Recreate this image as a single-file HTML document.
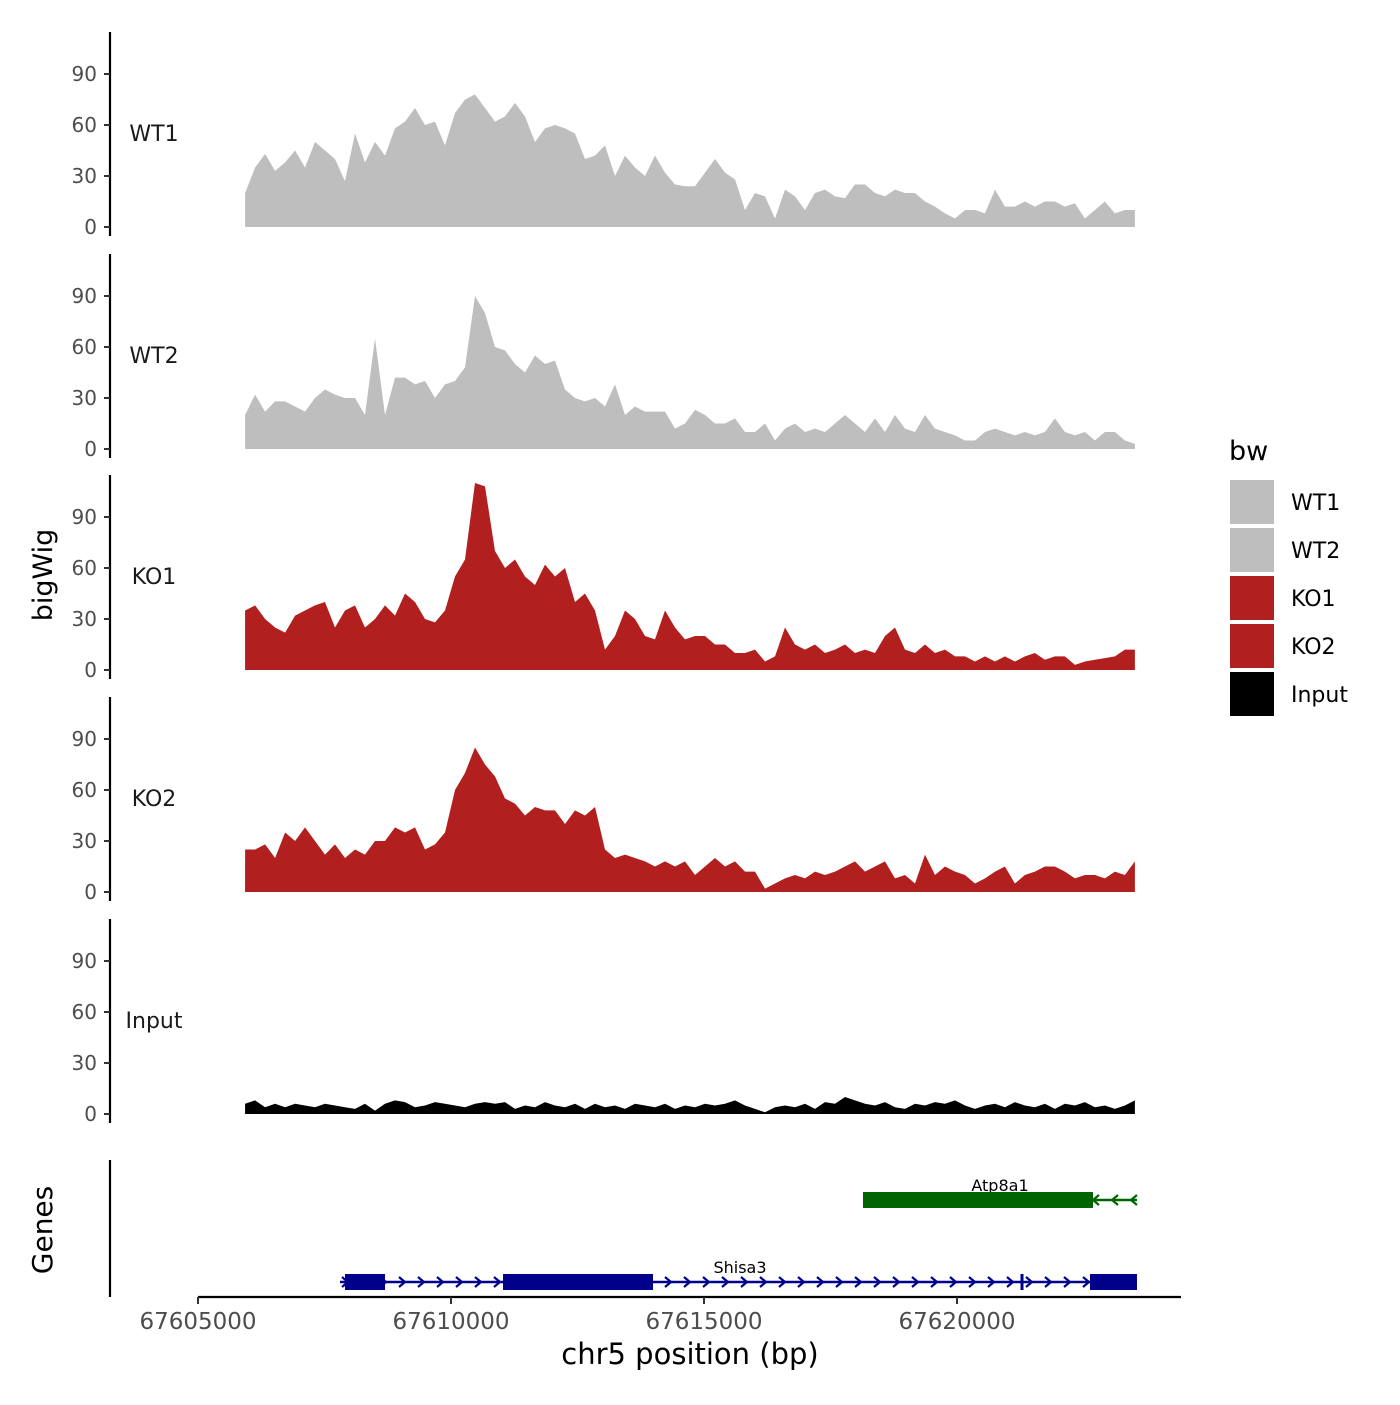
<!DOCTYPE html>
<html><head><meta charset="utf-8"><style>
html,body{margin:0;padding:0;background:#fff;}
svg text{font-family:"DejaVu Sans","Liberation Sans",sans-serif;}
</style></head><body>
<svg id="chart" width="1400" height="1400" viewBox="0 0 1400 1400" xmlns="http://www.w3.org/2000/svg">
<rect width="1400" height="1400" fill="#fff"/>
<g id="tracks"></g>
<g id="genes"></g>
<g id="legend"></g>
</svg>
<script>
const trackNames = ["WT1","WT2","KO1","KO2","Input"];
const trackColors = ["#bebebe","#bebebe","#b21f1f","#b21f1f","#000000"];
const binStart = 67605930;
const binSize = 197.6;
const yTicks = [0,30,60,90];
const xTicks = [67605000,67610000,67615000,67620000];
const wt1 = [20,35,43,33,38,45,35,50,45,40,27,55,38,50,42,58,62,70,60,62,48,67,75,78,70,62,65,73,65,50,58,60,58,55,40,42,48,30,42,35,30,42,32,25,24,24,32,40,32,28,10,20,18,5,22,18,10,20,22,18,17,25,25,20,18,22,20,20,15,12,8,5,10,10,8,22,12,12,15,12,15,15,12,14,5,10,15,8,10,10];
const wt2 = [20,32,22,28,28,25,22,30,35,32,30,30,20,65,20,42,42,38,40,30,38,40,48,90,80,60,58,50,45,55,50,52,35,30,28,30,25,38,20,25,22,22,22,12,15,23,20,15,15,18,10,10,15,5,12,15,10,12,10,15,20,15,10,18,10,20,12,10,20,12,10,8,5,5,10,12,10,8,10,8,10,18,10,8,10,5,10,10,5,3];
const ko1 = [35,38,30,25,22,32,35,38,40,25,35,38,25,30,38,32,45,40,30,28,35,55,65,110,108,70,60,65,55,50,62,55,60,40,45,35,12,20,35,30,20,18,35,25,18,20,20,15,15,10,10,12,5,8,25,15,12,15,10,12,15,10,12,10,20,25,12,10,15,10,12,8,8,5,8,5,8,5,8,10,6,8,8,3,5,6,7,8,12,12];
const ko2 = [25,25,28,20,35,30,38,30,22,28,20,25,22,30,30,38,35,38,25,28,35,60,70,85,75,68,55,52,45,50,48,48,40,48,45,50,25,20,22,20,18,15,18,15,18,10,15,20,15,18,12,12,2,5,8,10,8,12,10,12,15,18,12,15,18,8,10,5,22,10,15,12,10,5,8,12,15,5,10,12,15,15,12,8,10,10,8,12,10,18];
const input = [6,8,4,6,4,6,5,4,6,5,4,3,6,2,6,8,7,4,5,7,6,5,4,6,7,6,7,3,5,4,7,5,4,6,3,6,4,5,3,6,5,4,6,3,5,4,6,5,6,8,5,3,1,4,5,4,6,3,7,6,10,8,6,5,7,4,3,6,5,7,6,8,5,3,5,6,4,7,5,4,6,3,6,5,7,4,5,3,5,8];
const trackData = [wt1,wt2,ko1,ko2,input];
const geneNames = ["Atp8a1","Shisa3"];
const geneStarts = [67618142,67607806];
const geneEnds = [67623557,67623557];
const geneStrands = ["-","+"];
const exonGene = [0,1,1,1];
const exonStarts = [67618142,67607905,67611028,67622628];
const exonEnds = [67622688,67608696,67613992,67623557];

const NS="http://www.w3.org/2000/svg";
function mk(tag,attrs,parent){const e=document.createElementNS(NS,tag);for(const k in attrs)e.setAttribute(k,attrs[k]);parent.appendChild(e);return e;}
const xScale = bp => 198 + (bp-67605000)*253/5000;
const baselines = [227,449,670,892,1114];
const yScale = (v,i) => baselines[i] - v*1.7;

const tg=document.getElementById('tracks');
trackData.forEach((arr,i)=>{
  const g=mk('g',{},tg);
  
  
  let d='M'+xScale(binStart)+','+baselines[i];
  arr.forEach((v,j)=>{d+=' L'+xScale(binStart+j*binSize).toFixed(1)+','+yScale(v,i).toFixed(1);});
  d+=' L'+xScale(binStart+(arr.length-1)*binSize).toFixed(1)+','+baselines[i]+' Z';
  const p=mk('path',{d:d,fill:trackColors[i]},g);
  
  
  const top=baselines[i]-195, bot=baselines[i]+9;
  const ax=mk('line',{x1:110,x2:110,y1:top,y2:bot,stroke:'#000','stroke-width':2.2},g);
  
  
  yTicks.forEach(t=>{
    const y=yScale(t,i);
    mk('line',{x1:104,x2:110,y1:y,y2:y,stroke:'#333','stroke-width':2},g);
    const tx=mk('text',{x:97,y:y+7,'text-anchor':'end','font-size':20,fill:'#4d4d4d'},g);
    tx.textContent=t;
    
    
  });
  const lb=mk('text',{x:154,y:baselines[i]-86,'text-anchor':'middle','font-size':22,fill:'#1a1a1a'},g);
  lb.textContent=trackNames[i];
  
  
});
const yt=mk('text',{x:0,y:0,'text-anchor':'middle','font-size':27,fill:'#000',transform:'translate(52,575) rotate(-90)'},tg);
yt.textContent='bigWig';



const gg=document.getElementById('genes');
mk('line',{x1:110,x2:110,y1:1160,y2:1297,stroke:'#000','stroke-width':2.2},gg);
mk('line',{x1:198,x2:1181,y1:1297,y2:1297,stroke:'#000','stroke-width':2.2},gg);
xTicks.forEach(t=>{
  const x=xScale(t);
  mk('line',{x1:x,x2:x,y1:1297,y2:1304,stroke:'#333','stroke-width':2},gg);
  const tx=mk('text',{x:x,y:1329,'text-anchor':'middle','font-size':23,fill:'#4d4d4d'},gg);
  tx.textContent=t;
  
  
});
const xt=mk('text',{x:690,y:1364,'text-anchor':'middle','font-size':29,fill:'#000'},gg);
xt.textContent='chr5 position (bp)';


const gt=mk('text',{x:0,y:0,'text-anchor':'middle','font-size':28,fill:'#000',transform:'translate(52,1230) rotate(-90)'},gg);
gt.textContent='Genes';


const geneY=[1200,1282], geneCol=['#006400','#00008b'];
geneNames.forEach((n,i)=>{
  const g=mk('g',{},gg);
  
  
  const x1=xScale(geneStarts[i]), x2=xScale(geneEnds[i]), y=geneY[i], c=geneCol[i];
  mk('line',{x1:x1,x2:x2,y1:y,y2:y,stroke:c,'stroke-width':2.5},g);
  for(let x=x1+5;x<x2;x+=19){
    const d=geneStrands[i]==='+'?`M${x-3},${y-5} L${x+3},${y} L${x-3},${y+5}`:`M${x+3},${y-5} L${x-3},${y} L${x+3},${y+5}`;
    mk('path',{d:d,stroke:c,'stroke-width':2.2,fill:'none'},g);
  }
  const lb=mk('text',{x:(i===0?1000:740),y:y-9,'text-anchor':'middle','font-size':16,fill:'#000'},g);
  lb.textContent=n;
  
  
});
exonStarts.forEach((s,k)=>{
  const i=exonGene[k];
  const r=mk('rect',{x:xScale(s),y:geneY[i]-8,width:xScale(exonEnds[k])-xScale(s),height:16,fill:geneCol[i]},gg);
  
  
});
mk('line',{x1:1022,x2:1022,y1:1274,y2:1290,stroke:'#00008b','stroke-width':3},gg);

const lg=document.getElementById('legend');
const lt=mk('text',{x:1229,y:460,'font-size':27,fill:'#000'},lg);
lt.textContent='bw';


trackNames.forEach((n,i)=>{
  const g=mk('g',{},lg);
  
  
  mk('rect',{x:1230,y:480+i*48,width:44,height:44,fill:trackColors[i]},g);
  const t=mk('text',{x:1291,y:510+i*48,'font-size':22,fill:'#000'},g);
  t.textContent=n;
});
</script>
</body></html>
